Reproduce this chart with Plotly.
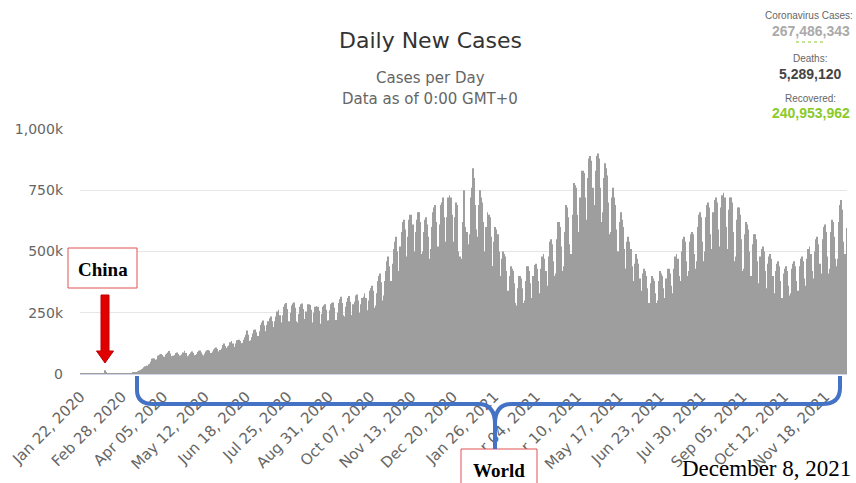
import pandas as pd
import plotly.graph_objects as go

# Daily new cases (thousands), Jan 22 2020 .. Dec 31 2020
cases_2020_k = [
    0.6, 0.1, 0.3, 0.7,
    0.7, 0.8, 1.8, 1.5, 2.0, 1.7, 2.1,
    2.6, 3.2, 3.9, 3.7, 3.2, 3.5, 2.7,
    3.0, 2.5, 2.0, 2.0, 15.1, 6.5, 2.7,
    2.1, 2.0, 1.9, 0.6, 0.9, 1.2, 1.1,
    1.1, 1.0, 0.9, 1.1, 1.4, 1.7, 2.0,
    1.9, 2.3, 2.6, 2.5, 2.8, 4.0, 4.1,
    3.9, 4.2, 4.8, 7.3, 7.5, 11, 13,
    14, 16, 20, 22, 28, 32, 35,
    34, 40, 42, 50, 62, 63, 63,
    58, 60, 75, 76, 80, 82, 78,
    70, 70, 80, 84, 88, 94, 84,
    72, 71, 75, 78, 86, 88, 82,
    75, 75, 76, 80, 88, 95, 86,
    70, 72, 76, 82, 88, 92, 86,
    77, 78, 82, 90, 95, 96, 88,
    80, 76, 84, 92, 96, 98, 95,
    85, 86, 92, 100, 105, 108, 102,
    92, 90, 98, 104, 118, 125, 114,
    104, 106, 112, 116, 130, 135, 125,
    110, 108, 124, 138, 138, 140, 135,
    126, 128, 140, 150, 160, 178, 160,
    135, 138, 150, 165, 180, 182, 170,
    150, 155, 175, 200, 210, 218, 198,
    175, 172, 200, 215, 228, 235, 215,
    190, 192, 215, 235, 255, 262, 240,
    205, 210, 240, 275, 285, 290, 265,
    215, 215, 250, 280, 288, 292, 270,
    215, 210, 245, 275, 285, 288, 265,
    225, 218, 255, 285, 285, 282, 262,
    210, 208, 250, 275, 278, 275, 258,
    205, 202, 245, 275, 280, 285, 262,
    218, 218, 260, 285, 290, 292, 270,
    220, 220, 250, 290, 305, 315, 290,
    240, 235, 275, 295, 310, 318, 295,
    240, 240, 285, 295, 320, 325, 300,
    240, 250, 285, 310, 315, 330, 310,
    250, 260, 300, 340, 350, 360, 340,
    270, 280, 330, 380, 400, 410, 375,
    300, 320, 380, 420, 460, 480, 440,
    360, 380, 450, 510, 540, 560, 500,
    400, 420, 520, 580, 620, 630, 590,
    460, 480, 560, 630, 650, 650, 610,
    480, 500, 580, 630, 660, 660, 620,
    490, 500, 580, 630, 640, 610, 560,
    470, 510, 600, 660, 680, 690, 620,
    500, 520, 610, 690, 700, 720, 640,
    530, 540, 640, 720, 730, 720, 650,
    520, 540, 640, 700, 690, 500, 480,
    430, 470, 620, 750, 600,
]

# Daily new cases (thousands), Jan 1 2021 .. Dec 7 2021
cases_2021_k = [
    550, 580,
    530, 570, 720, 760, 840, 800, 690,
    590, 560, 690, 750, 720, 700, 620,
    500, 480, 600, 660, 650, 640, 560,
    440, 440, 540, 600, 590, 570, 500,
    400, 400, 470, 500, 490, 480, 420,
    340, 330, 400, 440, 430, 420, 370,
    290, 280, 350, 400, 400, 390, 350,
    290, 300, 380, 440, 440, 420, 370,
    300, 310, 400, 445, 450, 430, 380,
    320, 330, 430, 480, 490, 470, 420,
    350, 360, 480, 540, 550, 530, 460,
    400, 410, 550, 620, 620, 600, 520,
    420, 440, 580, 690, 680, 640, 530,
    450, 490, 650, 780, 770, 760, 650,
    560, 580, 720, 830, 830, 820, 720,
    600, 630, 800, 880, 890, 870, 760,
    650, 690, 830, 890, 900, 880, 760,
    620, 660, 800, 860, 840, 810, 700,
    570, 580, 720, 760, 720, 690, 590,
    500, 500, 620, 660, 630, 600, 510,
    430, 430, 540, 560, 540, 510, 440,
    370, 380, 450, 490, 470, 450, 390,
    330, 340, 410, 430, 420, 400, 350,
    290, 290, 370, 400, 390, 380, 330,
    290, 300, 380, 420, 410, 400, 350,
    300, 310, 390, 430, 430, 410, 360,
    320, 330, 430, 480, 490, 470, 400,
    370, 380, 500, 550, 560, 540, 460,
    400, 420, 540, 570, 580, 570, 490,
    430, 460, 600, 650, 660, 640, 540,
    460, 500, 640, 690, 700, 680, 570,
    480, 510, 660, 710, 720, 700, 590,
    490, 520, 680, 730, 740, 720, 600,
    480, 510, 670, 720, 720, 700, 580,
    460, 480, 630, 680, 680, 650, 550,
    420, 430, 570, 620, 610, 590, 500,
    390, 400, 530, 570, 570, 550, 460,
    360, 370, 480, 510, 520, 500, 420,
    340, 350, 450, 480, 490, 470, 400,
    320, 330, 420, 450, 460, 440, 380,
    310, 310, 410, 430, 440, 420, 360,
    320, 330, 430, 450, 460, 440, 380,
    330, 340, 440, 470, 480, 460, 390,
    350, 360, 470, 510, 520, 490, 420,
    370, 390, 500, 550, 560, 530, 450,
    400, 410, 550, 600, 610, 580, 480,
    410, 430, 580, 630, 620, 560, 470,
    440, 470, 620, 690, 710, 670, 540,
    460, 490, 596,
]

tick_labels = ["Jan 22, 2020", "Feb 28, 2020", "Apr 05, 2020", "May 12, 2020",
               "Jun 18, 2020", "Jul 25, 2020", "Aug 31, 2020", "Oct 07, 2020",
               "Nov 13, 2020", "Dec 20, 2020", "Jan 26, 2021", "Mar 04, 2021",
               "Apr 10, 2021", "May 17, 2021", "Jun 23, 2021", "Jul 30, 2021",
               "Sep 05, 2021", "Oct 12, 2021", "Nov 18, 2021"]
y_ticks = [0, 250000, 500000, 750000, 1000000]
y_tick_text = ["0", "250k", "500k", "750k", "1,000k"]

assert len(cases_2020_k) == 345, len(cases_2020_k)
assert len(cases_2021_k) == 341, len(cases_2021_k)

values = [v * 1000 for v in cases_2020_k + cases_2021_k]
dates = pd.date_range("2020-01-22", periods=len(values), freq="D")
tick_dates = [dates[i * 37] for i in range(len(tick_labels))]

W, H = 856, 483
L, R, T, B = 80, 847, 129, 374


def px(x):
    return (x - L) / (R - L)


def py(y):
    return (B - y) / (B - T)


def path(cmds):
    out = []
    for c in cmds:
        op = c[0]
        pts = c[1:]
        s = op
        for i in range(0, len(pts), 2):
            s += " %.5f,%.5f" % (px(pts[i]), py(pts[i + 1]))
        out.append(s)
    return " ".join(out)


fig = go.Figure()
fig.add_trace(go.Bar(x=dates, y=values, marker=dict(color="#9e9e9e", line=dict(width=0)),
                     hoverinfo="x+y", showlegend=False))

font = "DejaVu Sans, Verdana, sans-serif"
sans = "Liberation Sans, Arial, sans-serif"
serif = "Liberation Serif, Times New Roman, serif"

annotations = []


def txt(text, x, y, size, color, family=font, bold=False):
    if bold:
        text = "<b>" + text + "</b>"
    annotations.append(dict(text=text, x=px(x), y=py(y), xref="paper", yref="paper",
                            xanchor="center", yanchor="middle", showarrow=False,
                            font=dict(size=size, color=color, family=family)))


txt("Daily New Cases", 430, 40, 22, "#333333")
txt("Cases per Day", 430, 78, 15, "#666666")
txt("Data as of 0:00 GMT+0", 430, 99, 15, "#666666")

txt("Coronavirus Cases:", 809, 15, 10, "#666666", family=sans)
txt("267,486,343", 811, 31, 14, "#aaaaaa", family=sans, bold=True)
txt("Deaths:", 810, 58, 10, "#666666", family=sans)
txt("5,289,120", 810, 74, 14, "#444444", family=sans, bold=True)
txt("Recovered:", 810, 98, 10, "#666666", family=sans)
txt("240,953,962", 811, 113, 14, "#8ACA2B", family=sans, bold=True)

txt("China", 103, 269, 19, "#000000", family=serif, bold=True)
txt("World", 499, 471, 19, "#000000", family=serif, bold=True)
txt("December 8, 2021", 766, 468, 23, "#000000", family=serif)

shapes = []
# tiny green underline in stats box
shapes.append(dict(type="line", xref="paper", yref="paper", x0=px(796), x1=px(824),
                   y0=py(42), y1=py(42), line=dict(color="#8ACA2B", width=1, dash="dot")))
# China box
shapes.append(dict(type="rect", xref="paper", yref="paper", x0=px(68), x1=px(137),
                   y0=py(288), y1=py(248), line=dict(color="#e05050", width=1),
                   fillcolor="white", layer="above"))
# World box
shapes.append(dict(type="rect", xref="paper", yref="paper", x0=px(461), x1=px(537),
                   y0=py(495), y1=py(449), line=dict(color="#e05050", width=1),
                   fillcolor="white", layer="above"))
# red arrow
shapes.append(dict(type="path", xref="paper", yref="paper", layer="above",
                   path=path([("M", 101, 295), ("L", 109, 295), ("L", 109, 351),
                              ("L", 113.5, 351), ("L", 105, 363), ("L", 96.5, 351),
                              ("L", 101, 351)]) + " Z",
                   fillcolor="#e00000", line=dict(color="#c00000", width=1)))
# blue bracket
shapes.append(dict(type="path", xref="paper", yref="paper", layer="above",
                   path=path([("M", 137, 376), ("L", 137, 390), ("Q", 137, 404, 153, 404),
                              ("L", 478, 404), ("Q", 495, 404, 495, 424), ("L", 495, 449),
                              ("M", 495, 424), ("Q", 495, 404, 512, 404),
                              ("L", 822, 404), ("Q", 840, 404, 840, 388), ("L", 840, 376)]),
                   line=dict(color="#4472C4", width=4)))

fig.update_layout(
    width=W, height=H,
    margin=dict(l=L, r=W - R, t=T, b=H - B, autoexpand=False),
    paper_bgcolor="white", plot_bgcolor="white",
    bargap=0.22,
    showlegend=False,
    annotations=annotations,
    shapes=shapes,
    font=dict(family=font, color="#666666"),
    xaxis=dict(
        type="date", automargin=False,
        range=[dates[0] - pd.Timedelta(hours=12), dates[-1] + pd.Timedelta(hours=12)],
        tickmode="array", tickvals=tick_dates, ticktext=tick_labels,
        tickangle=-45, tickfont=dict(size=15, color="#666666", family=font),
        showgrid=False, showline=True, linecolor="#ccd6eb", linewidth=1,
        ticks="", zeroline=False, fixedrange=True, ticklabelstandoff=7,
    ),
    yaxis=dict(
        automargin=False,
        range=[0, 1000000], tickmode="array", tickvals=y_ticks, ticktext=y_tick_text,
        tickfont=dict(size=14, color="#666666", family=font),
        showgrid=True, gridcolor="#e6e6e6", gridwidth=1, zeroline=False,
        showline=False, ticks="", ticklabelstandoff=16, fixedrange=True,
    ),
)

fig.write_html("out.html", config={"displayModeBar": False},
               post_script="document.body.style.margin='0';document.body.style.overflow='hidden';")
